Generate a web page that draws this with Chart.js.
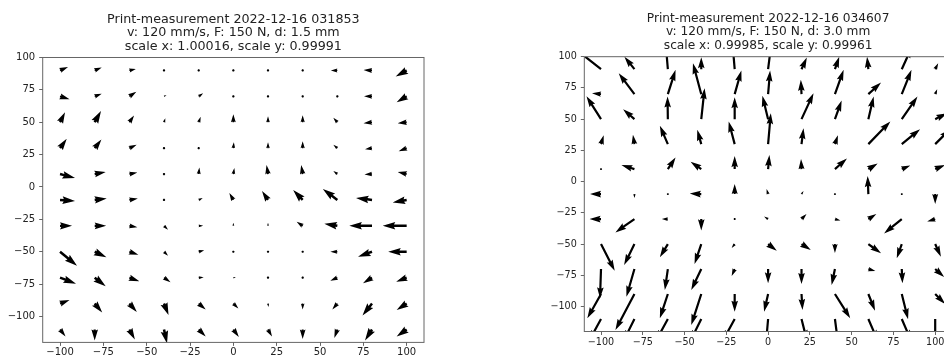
<!DOCTYPE html>
<html>
<head>
<meta charset="utf-8">
<script src="https://cdn.jsdelivr.net/npm/chart.js@4/dist/chart.umd.min.js"></script>
<style>
  html, body { margin: 0; padding: 0; background: #fff; overflow: hidden; }
  body { width: 944px; height: 358px; position: relative; }
  .panel { position: absolute; top: 0; height: 358px; }
  #left { left: 0; width: 472px; }
  #right { left: 472px; width: 500px; }
</style>
</head>
<body>
<div class="panel" id="left"><canvas id="c1" width="472" height="358"></canvas></div>
<div class="panel" id="right"><canvas id="c2" width="500" height="358"></canvas></div>
<script>
const gridX = [-100, -80, -60, -40, -20, 0, 20, 40, 60, 80, 100];
const gridY = [90, 70, 50, 30, 10, -10, -30, -50, -70, -90, -110];
const xTicks = [-100, -75, -50, -25, 0, 25, 50, 75, 100];
const yTicks = [-100, -75, -50, -25, 0, 25, 50, 75, 100];

const title1 = [
  "Print-measurement 2022-12-16 031853",
  "v: 120 mm/s, F: 150 N, d: 1.5 mm",
  "scale x: 1.00016, scale y: 0.99991",
];
const title2 = [
  "Print-measurement 2022-12-16 034607",
  "v: 120 mm/s, F: 150 N, d: 3.0 mm",
  "scale x: 0.99985, scale y: 0.99961",
];

// displacement components, rows follow gridY, columns follow gridX
const u1 = [
  [8, 7, 6.5, 1.5, 0.5, 0.5, 0.5, 2, -6.5, -8.5, -11],
  [9.5, 7, 7, 2.5, 4.5, 1.5, 0.5, 1, 1, -8, -10],
  [5, 6.3, 4.7, 1.3, 2, 0, 0, 0, -4, -8.5, -9],
  [6.7, 6.7, 7.3, 0.3, 0.3, 0.5, 0, 0, -4, -7, -8],
  [15, 11, 8, 0.7, 0.7, 1, -1.5, -1.5, -4, -7.5, -9],
  [15, 12, 8.5, 0.5, 4, -4, -6, -9.5, -14.5, -16, -14],
  [12, 11.5, 8, 4, 4.5, 0, 0, -6, -13, -22.7, -24],
  [17, 11.7, 9, 4, 5.5, 0.5, 0.5, -1.5, -7, -14, -18.5],
  [16, 11, 10, 6.5, 5, 2.5, 0.3, -1.5, -7, -9, -10.5],
  [9.5, 7.5, 7.5, 4.5, 7, 5, 0.5, 0, -5, -9.5, -10],
  [5.5, 0, 5.5, 3, 7, 5.5, 4, 0, -3, -7, -10],
];
const v1 = [
  [3.5, 3, 1.5, 0.5, 0, 0, 0, -1.5, 0, 0.5, -6],
  [-3, 2.5, 4.5, 1, 3, 1.5, -0.5, -0.5, -0.5, 0, -6],
  [10, 11.3, 6.7, 4, 5.5, 8, 6, 7, 4.5, -1, -1],
  [9.3, 8.7, 3.5, 1, 1.5, 6, 6, 7, 3.5, -1, -3],
  [-4, 2, 1.5, 0.7, 6.5, 6, 9, 9, 3, -0.5, 2],
  [-1, 1.5, 1.5, 0, 2, 7, 9, 10, 11, 2, -2.5],
  [0, 0, -1.5, -4, 0, 3, 3, 4, 2, 0, 0],
  [-14, -5.5, -3, -4, 1.5, 0.5, 0, 0, 0, -5, 0],
  [-6, -8.5, -3.5, -4.5, 0.5, 0.5, 0, 0, -3, -5.5, -4],
  [3.5, -9, -8.5, -11.5, -6, -5, -3.5, -6, -6, -12, -6.5],
  [-7, -11, -10, -14, -7, -7.5, -7, -9.5, -8.5, -11, -7],
];
const u2 = [
  [-24, -10, -2, 0, -2, 3, 5.3, 4.3, -1.3, 10, 3],
  [-9, -15.7, 7.7, -8.3, 6.7, 2, -0.7, 8.7, 12.7, 9.7, 2],
  [-14.5, -11.3, -0.3, 3.3, 0, -5.7, 12, 6.7, 5.3, 15.7, 12],
  [2.7, -1.5, -8, -4, -6, 2.7, 2, 3, 22, 18.3, 15],
  [0, -13, 7.7, -10.7, 0, 1.3, -0.5, 12, 9.3, 8.5, 10],
  [-11, 0, 0.3, -11.5, 0, -1.5, 2, 0.3, -0.7, 0.3, 0],
  [-11.5, -19, -6, 0, 0.5, -4, 5, 5.5, 8, -17.7, -8],
  [13.7, -10.3, -8, -6.7, -3, 8.7, 9.3, 0, 12.7, -5, 5.7],
  [-1, -8, -3, -10, -3, 0, 0, -3.3, 7, 0.7, 9],
  [-13.7, -19, -8, -10, 0, -4, 1, 15.3, 6.7, 6.3, 10],
  [-12, -11, -12, -11, -12, -2, 5.5, 3, 9.5, 9.5, 0],
];
const v2 = [
  [19, 12.5, 24, 12, 24, 24, 11.7, 12.5, 12.5, 22, 6],
  [1, 21, 24.3, 31, 23.7, 23.7, 14.3, 24.3, 11.7, 24.3, 5],
  [23, 10, 22.7, 31, 22, 23.3, 26, 18.7, 22.7, 22.7, 6],
  [9, 9.5, 18.3, 14.3, 22.7, 31, 16, 9, 22.7, 15, 15],
  [1, 4, 11.7, 7.3, 13, 14, 10, 10.7, 5.7, 3.5, 4],
  [0, -4, 0, 0.5, 10, 5, 3, 0, 18, 0.3, -10],
  [0, -13.3, 0, -11.3, 0, 2.5, 5, -1.5, 5, -14.3, -2.5],
  [-26.7, -21, -13.3, -20, -4, -6.7, -6, -9, -9.3, -14.3, -12.7],
  [-29.3, -27.7, -21, -21, -7, -14.3, -15, -16, -2, -14.3, -8],
  [-24.3, -36, -24.3, -31, -17.7, -17.7, -16, -24.3, -16.7, -25.3, -10],
  [-22, -22, -22, -22, -22, -23, -22, -23, -22, -22, -23],
];

const fmt = (v) => (v < 0 ? "\u2212" : "") + Math.abs(v);

// matplotlib-style arrow: shaft width w, head 3w wide, 5w long
function drawArrow(ctx, x0, y0, dx, dy, w) {
  const len = Math.hypot(dx, dy) / w;
  ctx.beginPath();
  if (len < 1) {
    for (let t = 0; t < 6; t++) {
      const a = (t * Math.PI) / 3;
      ctx.lineTo(x0 + (Math.cos(a) * w) / 2, y0 + (Math.sin(a) * w) / 2);
    }
    ctx.closePath();
    ctx.fill();
    return;
  }
  let xs = [0, len - 4.5, len - 5, len];
  let ys = [0.5, 0.5, 1.5, 0];
  if (len < 5) {
    const k = len / 5;
    xs = [0, 0.5, 0, 5].map((v) => v * k);
    ys = ys.map((v) => v * k);
  }
  const idx = [0, 1, 2, 3, 2, 1, 0];
  const sgn = [1, 1, 1, 1, -1, -1, -1];
  const ang = Math.atan2(dy, dx);
  const c = Math.cos(ang), s = Math.sin(ang);
  idx.forEach((k, n) => {
    const ax = xs[k] * w, ay = ys[k] * w * sgn[n];
    ctx.lineTo(x0 + ax * c - ay * s, y0 + ax * s + ay * c);
  });
  ctx.closePath();
  ctx.fill();
}

const quiverPlugin = {
  id: "quiver",
  afterDatasetsDraw(chart, args, opts) {
    const { ctx, chartArea: a } = chart;
    const xs = chart.scales.x, ys = chart.scales.y;
    const k = a.width / opts.scale;
    const w = opts.width * a.width;
    ctx.save();
    ctx.beginPath();
    ctx.rect(a.left, a.top, a.width, a.height);
    ctx.clip();
    ctx.fillStyle = "#000";
    opts.u.forEach((row, i) => {
      row.forEach((uu, j) => {
        const px = xs.getPixelForValue(gridX[j]);
        const py = ys.getPixelForValue(gridY[i]);
        drawArrow(ctx, px, py, uu * k, -opts.v[i][j] * k, w);
      });
    });
    ctx.restore();
    ctx.save();
    ctx.strokeStyle = "#666";
    ctx.lineWidth = 1;
    ctx.strokeRect(a.left, a.top, a.width, a.height);
    ctx.restore();
  },
};

function makeQuiver(id, p) {
  const tickFont = { family: "DejaVu Sans", size: p.tickSize };
  const tail = [];
  gridY.forEach((y) => gridX.forEach((x) => tail.push({ x, y })));
  return new Chart(document.getElementById(id), {
    type: "scatter",
    data: { datasets: [{ data: tail, pointRadius: 0 }] },
    options: {
      responsive: false,
      animation: false,
      layout: { padding: { left: 0, right: p.padRight, top: 0, bottom: 0 } },
      plugins: {
        legend: { display: false },
        tooltip: { enabled: false },
        title: {
          display: true,
          fullSize: false,
          text: p.title,
          color: "#222",
          font: { family: "DejaVu Sans", size: p.titleSize, weight: "normal", lineHeight: p.titleLine },
          padding: { top: p.titleTop, bottom: p.titleBottom },
        },
        quiver: { u: p.u, v: p.v, scale: p.scale, width: p.arrowWidth },
      },
      scales: {
        x: {
          type: "linear",
          min: -110,
          max: 110,
          afterBuildTicks: (s) => { s.ticks = xTicks.map((value) => ({ value })); },
          afterFit: (s) => { s.height = p.xHeight; },
          border: { display: false },
          grid: { drawOnChartArea: false, tickLength: 3.5, color: "#666" },
          ticks: { font: tickFont, color: "#222", padding: p.xPad, autoSkip: false, maxRotation: 0, callback: fmt },
        },
        y: {
          type: "linear",
          min: -120,
          max: 100,
          afterBuildTicks: (s) => { s.ticks = yTicks.map((value) => ({ value })); },
          afterFit: (s) => { s.width = p.yWidth; },
          border: { display: false },
          grid: { drawOnChartArea: false, tickLength: 3.5, color: "#666" },
          ticks: { font: tickFont, color: "#222", padding: 4, autoSkip: false, callback: fmt },
        },
      },
    },
    plugins: [quiverPlugin],
  });
}

makeQuiver("c1", {
  u: u1, v: v1, scale: 381.3, arrowWidth: 0.0066, title: title1,
  titleSize: 12.7, titleLine: 1.055, titleTop: 12.8, titleBottom: 4.5,
  tickSize: 10, yWidth: 42.7, xHeight: 15.6, padRight: 48, xPad: 0.5,
});
makeQuiver("c2", {
  u: u2, v: v2, scale: 367.6, arrowWidth: 0.006, title: title2,
  titleSize: 12.2, titleLine: 1.09, titleTop: 12.35, titleBottom: 4.45,
  tickSize: 9.6, yWidth: 112.3, xHeight: 26.5, padRight: 20.1, xPad: 1.5,
});
</script>
</body>
</html>
